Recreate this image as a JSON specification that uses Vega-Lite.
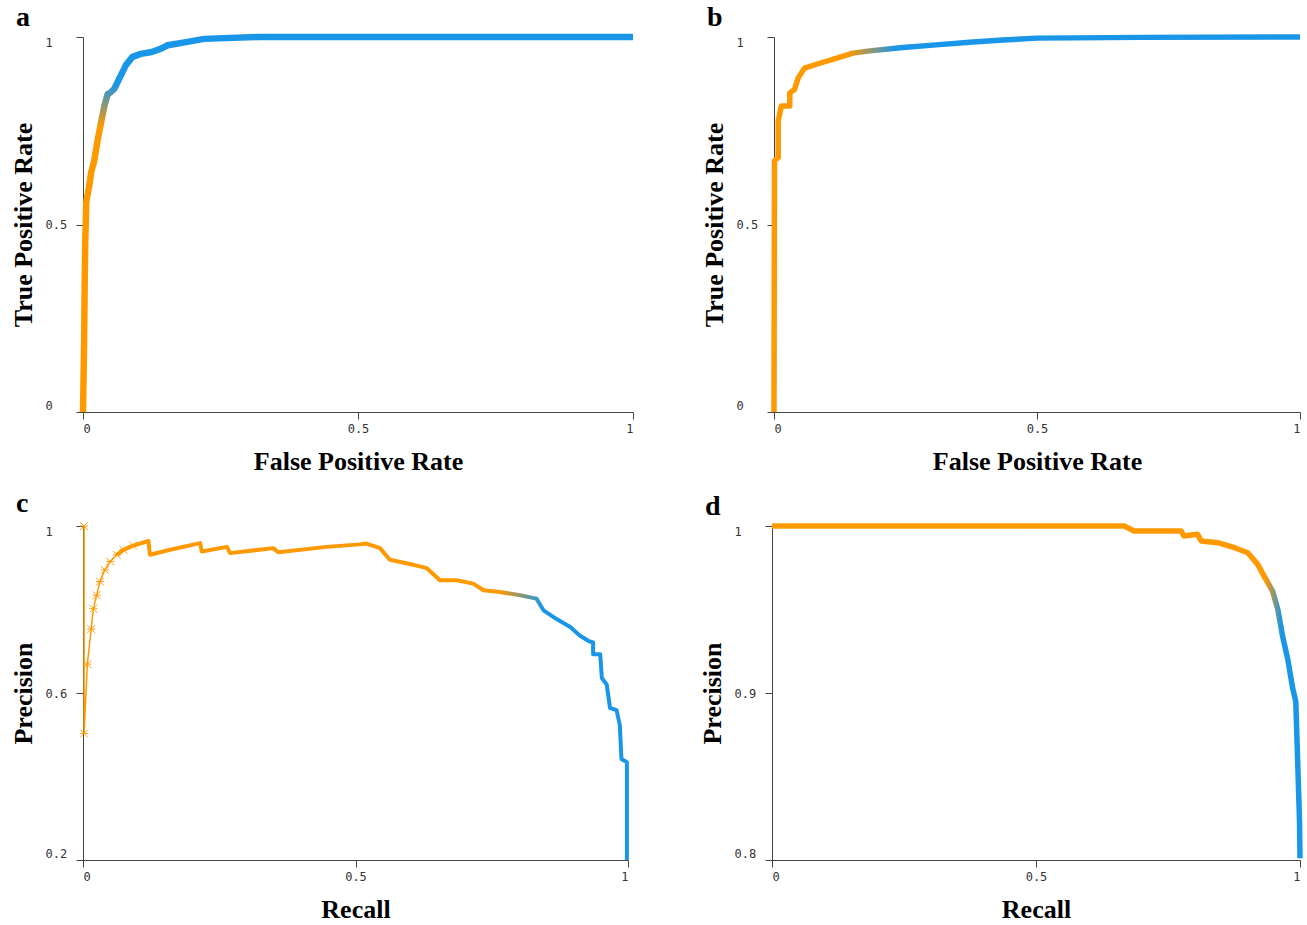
{
  "$schema": "https://vega.github.io/schema/vega-lite/v6.json",
  "background": "white",
  "padding": {"left": 10, "top": 3, "right": 6, "bottom": 4},
  "datasets": {
    "roc_a": [
      {"fpr": 0.0, "tpr": 0.0}, {"fpr": 0.002, "tpr": 0.18}, {"fpr": 0.003, "tpr": 0.33}, {"fpr": 0.004, "tpr": 0.45},
      {"fpr": 0.006, "tpr": 0.56}, {"fpr": 0.011, "tpr": 0.6}, {"fpr": 0.015, "tpr": 0.64}, {"fpr": 0.02, "tpr": 0.667},
      {"fpr": 0.027, "tpr": 0.728}, {"fpr": 0.033, "tpr": 0.773}, {"fpr": 0.039, "tpr": 0.817}, {"fpr": 0.045, "tpr": 0.848},
      {"fpr": 0.05, "tpr": 0.852}, {"fpr": 0.057, "tpr": 0.862}, {"fpr": 0.066, "tpr": 0.889}, {"fpr": 0.078, "tpr": 0.925},
      {"fpr": 0.09, "tpr": 0.947}, {"fpr": 0.105, "tpr": 0.955}, {"fpr": 0.125, "tpr": 0.96}, {"fpr": 0.142, "tpr": 0.969},
      {"fpr": 0.154, "tpr": 0.978}, {"fpr": 0.19, "tpr": 0.987}, {"fpr": 0.22, "tpr": 0.995}, {"fpr": 0.32, "tpr": 1.0},
      {"fpr": 1.0, "tpr": 1.0}
    ],
    "roc_b": [
      {"fpr": 0.0, "tpr": 0.0}, {"fpr": 0.001, "tpr": 0.67}, {"fpr": 0.008, "tpr": 0.679}, {"fpr": 0.008, "tpr": 0.776},
      {"fpr": 0.014, "tpr": 0.816}, {"fpr": 0.03, "tpr": 0.816}, {"fpr": 0.03, "tpr": 0.851}, {"fpr": 0.039, "tpr": 0.86},
      {"fpr": 0.046, "tpr": 0.891}, {"fpr": 0.058, "tpr": 0.917}, {"fpr": 0.087, "tpr": 0.93}, {"fpr": 0.118, "tpr": 0.943},
      {"fpr": 0.15, "tpr": 0.957}, {"fpr": 0.182, "tpr": 0.963}, {"fpr": 0.245, "tpr": 0.972}, {"fpr": 0.308, "tpr": 0.979},
      {"fpr": 0.372, "tpr": 0.986}, {"fpr": 0.435, "tpr": 0.992}, {"fpr": 0.5, "tpr": 0.997}, {"fpr": 0.7, "tpr": 0.999},
      {"fpr": 1.0, "tpr": 1.0}
    ],
    "pr_c": [
      {"recall": 0.002, "precision": 1.0}, {"recall": 0.002, "precision": 0.503}, {"recall": 0.008, "precision": 0.669},
      {"recall": 0.015, "precision": 0.753}, {"recall": 0.019, "precision": 0.802}, {"recall": 0.025, "precision": 0.834},
      {"recall": 0.031, "precision": 0.867}, {"recall": 0.04, "precision": 0.895}, {"recall": 0.05, "precision": 0.915},
      {"recall": 0.062, "precision": 0.931}, {"recall": 0.074, "precision": 0.943}, {"recall": 0.092, "precision": 0.953},
      {"recall": 0.12, "precision": 0.964}, {"recall": 0.123, "precision": 0.931}, {"recall": 0.16, "precision": 0.943},
      {"recall": 0.215, "precision": 0.959}, {"recall": 0.218, "precision": 0.939}, {"recall": 0.264, "precision": 0.95},
      {"recall": 0.27, "precision": 0.935}, {"recall": 0.349, "precision": 0.947}, {"recall": 0.358, "precision": 0.937},
      {"recall": 0.447, "precision": 0.95}, {"recall": 0.508, "precision": 0.956}, {"recall": 0.52, "precision": 0.958},
      {"recall": 0.545, "precision": 0.947}, {"recall": 0.563, "precision": 0.919}, {"recall": 0.606, "precision": 0.907},
      {"recall": 0.631, "precision": 0.899}, {"recall": 0.655, "precision": 0.87}, {"recall": 0.686, "precision": 0.87},
      {"recall": 0.716, "precision": 0.862}, {"recall": 0.735, "precision": 0.846}, {"recall": 0.765, "precision": 0.842},
      {"recall": 0.802, "precision": 0.834}, {"recall": 0.832, "precision": 0.826}, {"recall": 0.845, "precision": 0.798},
      {"recall": 0.869, "precision": 0.777}, {"recall": 0.894, "precision": 0.758}, {"recall": 0.912, "precision": 0.737},
      {"recall": 0.927, "precision": 0.725}, {"recall": 0.936, "precision": 0.721}, {"recall": 0.936, "precision": 0.693},
      {"recall": 0.949, "precision": 0.693}, {"recall": 0.952, "precision": 0.636}, {"recall": 0.961, "precision": 0.62},
      {"recall": 0.967, "precision": 0.564}, {"recall": 0.979, "precision": 0.559}, {"recall": 0.985, "precision": 0.523},
      {"recall": 0.988, "precision": 0.442}, {"recall": 0.998, "precision": 0.434}, {"recall": 0.998, "precision": 0.2}
    ],
    "pr_d": [
      {"recall": 0.0, "precision": 1.0}, {"recall": 0.667, "precision": 1.0}, {"recall": 0.686, "precision": 0.997},
      {"recall": 0.775, "precision": 0.997}, {"recall": 0.78, "precision": 0.994}, {"recall": 0.806, "precision": 0.995},
      {"recall": 0.813, "precision": 0.991}, {"recall": 0.844, "precision": 0.99}, {"recall": 0.876, "precision": 0.987},
      {"recall": 0.901, "precision": 0.984}, {"recall": 0.92, "precision": 0.977}, {"recall": 0.932, "precision": 0.97},
      {"recall": 0.948, "precision": 0.961}, {"recall": 0.958, "precision": 0.95}, {"recall": 0.967, "precision": 0.934},
      {"recall": 0.977, "precision": 0.92}, {"recall": 0.986, "precision": 0.903}, {"recall": 0.992, "precision": 0.895},
      {"recall": 0.996, "precision": 0.855}, {"recall": 0.999, "precision": 0.824}, {"recall": 1.0, "precision": 0.801}
    ]
  },
  "config": {
    "view": {"stroke": null},
    "axis": {
      "grid": false, "domainColor": "#444", "tickColor": "#444", "tickSize": 7,
      "labelFont": "DejaVu Sans Mono", "labelFontSize": 12, "labelColor": "#333",
      "titleFont": "Liberation Serif", "titleFontWeight": "bold", "titleFontSize": 26, "titleColor": "black",
      "format": "~g"
    },
    "axisX": {"labelDx": -4, "labelPadding": 4, "titlePadding": 14},
    "axisY": {"labelAlign": "left", "labelPadding": 31, "labelFlush": true, "titlePadding": 9},
    "title": {"font": "Liberation Serif", "fontSize": 28, "fontWeight": "bold", "anchor": "start", "color": "black", "offset": 2, "dx": 6}
  },
  "spacing": 16,
  "vconcat": [
    {
      "spacing": 64,
      "hconcat": [
        {
          "title": "a",
          "width": 550, "height": 375,
          "data": {"name": "roc_a"},
          "mark": {"type": "line", "strokeWidth": 6.5, "strokeJoin": "round", "strokeCap": "butt",
            "color": {"gradient": "linear", "x1": 0, "y1": 1, "x2": 0, "y2": 0,
              "stops": [{"offset": 0, "color": "#FF9900"}, {"offset": 0.76, "color": "#FF9900"}, {"offset": 0.875, "color": "#1A96E8"}, {"offset": 1, "color": "#1A96E8"}]}},
          "encoding": {
            "x": {"field": "fpr", "type": "quantitative", "scale": {"domain": [0, 1], "nice": false}, "axis": {"values": [0, 0.5, 1], "title": "False Positive Rate"}},
            "y": {"field": "tpr", "type": "quantitative", "scale": {"domain": [0, 1], "nice": false}, "axis": {"values": [0, 0.5, 1], "title": "True Positive Rate"}},
            "order": {"field": "fpr", "type": "quantitative"}
          }
        },
        {
          "title": "b",
          "width": 526, "height": 375,
          "data": {"name": "roc_b"},
          "mark": {"type": "line", "strokeWidth": 5.5, "strokeJoin": "round", "strokeCap": "butt",
            "color": {"gradient": "linear", "x1": 0, "y1": 0, "x2": 1, "y2": 0,
              "stops": [{"offset": 0, "color": "#FF9900"}, {"offset": 0.14, "color": "#FF9900"}, {"offset": 0.23, "color": "#1A96E8"}, {"offset": 1, "color": "#1A96E8"}]}},
          "encoding": {
            "x": {"field": "fpr", "type": "quantitative", "scale": {"domain": [0, 1], "nice": false}, "axis": {"values": [0, 0.5, 1], "title": "False Positive Rate"}},
            "y": {"field": "tpr", "type": "quantitative", "scale": {"domain": [0, 1], "nice": false}, "axis": {"values": [0, 0.5, 1], "title": "True Positive Rate"}},
            "order": {"field": "fpr", "type": "quantitative"}
          }
        }
      ]
    },
    {
      "spacing": 70,
      "hconcat": [
        {
          "title": "c",
          "width": 545, "height": 334,
          "data": {"name": "pr_c"},
          "encoding": {
            "x": {"field": "recall", "type": "quantitative", "scale": {"domain": [0, 1], "nice": false}, "axis": {"values": [0, 0.5, 1], "title": "Recall"}},
            "y": {"field": "precision", "type": "quantitative", "scale": {"domain": [0.2, 1], "nice": false, "zero": false}, "axis": {"values": [0.2, 0.6, 1], "title": "Precision"}}
          },
          "layer": [
            {"transform": [{"filter": "datum.recall <= 0.08"}],
             "mark": {"type": "line", "strokeWidth": 1.5, "color": "#FF9900"}},
            {"transform": [{"filter": "datum.recall <= 0.1"}],
             "mark": {"type": "point", "shape": "M-1,-1L1,1M-1,1L1,-1M-1,0L1,0", "size": 64, "filled": false, "color": "#FF9900", "strokeWidth": 1, "opacity": 0.9}},
            {"transform": [{"filter": "datum.recall >= 0.062"}],
             "mark": {"type": "line", "strokeWidth": 4, "strokeJoin": "round", "strokeCap": "butt",
               "color": {"gradient": "linear", "x1": 0, "y1": 0, "x2": 1, "y2": 0,
                 "stops": [{"offset": 0, "color": "#FF9900"}, {"offset": 0.75, "color": "#FF9900"}, {"offset": 0.835, "color": "#1A96E8"}, {"offset": 1, "color": "#1A96E8"}]}}}
          ]
        },
        {
          "title": "d",
          "width": 528, "height": 334,
          "data": {"name": "pr_d"},
          "mark": {"type": "line", "strokeWidth": 5.5, "strokeJoin": "round", "strokeCap": "butt",
            "color": {"gradient": "linear", "x1": 0, "y1": 0, "x2": 1, "y2": 0,
              "stops": [{"offset": 0, "color": "#FF9900"}, {"offset": 0.935, "color": "#FF9900"}, {"offset": 0.965, "color": "#1A96E8"}, {"offset": 1, "color": "#1A96E8"}]}},
          "encoding": {
            "x": {"field": "recall", "type": "quantitative", "scale": {"domain": [0, 1], "nice": false}, "axis": {"values": [0, 0.5, 1], "title": "Recall"}},
            "y": {"field": "precision", "type": "quantitative", "scale": {"domain": [0.8, 1], "nice": false, "zero": false}, "axis": {"values": [0.8, 0.9, 1], "title": "Precision"}},
            "order": {"field": "recall", "type": "quantitative"}
          }
        }
      ]
    }
  ]
}
